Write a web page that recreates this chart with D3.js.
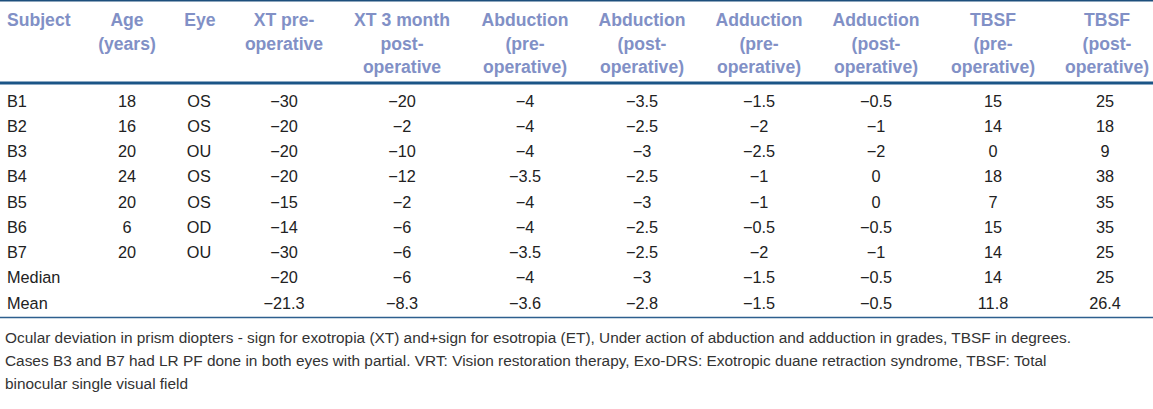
<!DOCTYPE html>
<html>
<head>
<meta charset="utf-8">
<script src="https://cdn.jsdelivr.net/npm/d3@7"></script>
<style>
  html, body { margin: 0; padding: 0; background: #ffffff; }
  svg { display: block; }
</style>
</head>
<body>
<svg id="chart" width="1153" height="409"></svg>
<script>
// ---------- DATA ----------
const columnKeys = ["subject","age","eye","xtPre","xtPost","abdPre","abdPost","addPre","addPost","tbsfPre","tbsfPost"];
const headerLines = [
  ["Subject"],
  ["Age","(years)"],
  ["Eye"],
  ["XT pre-","operative"],
  ["XT 3 month","post-","operative"],
  ["Abduction","(pre-","operative)"],
  ["Abduction","(post-","operative)"],
  ["Adduction","(pre-","operative)"],
  ["Adduction","(post-","operative)"],
  ["TBSF","(pre-","operative)"],
  ["TBSF","(post-","operative)"]
];
const subjects = ["B1","B2","B3","B4","B5","B6","B7"];
const age      = [18, 16, 20, 24, 20, 6, 20];
const eye      = ["OS","OS","OU","OS","OS","OD","OU"];
const xtPre    = [-30, -20, -20, -20, -15, -14, -30];
const xtPost   = [-20, -2, -10, -12, -2, -6, -6];
const abdPre   = [-4, -4, -4, -3.5, -4, -4, -3.5];
const abdPost  = [-3.5, -2.5, -3, -2.5, -3, -2.5, -2.5];
const addPre   = [-1.5, -2, -2.5, -1, -1, -0.5, -2];
const addPost  = [-0.5, -1, -2, 0, 0, -0.5, -1];
const tbsfPre  = [15, 14, 0, 18, 7, 15, 14];
const tbsfPost = [25, 18, 9, 38, 35, 35, 25];
const summaryLabels = ["Median","Mean"];
const medianValues = ["-20","-6","-4","-3","-1.5","-0.5","14","25"];
const meanValues   = ["-21.3","-8.3","-3.6","-2.8","-1.5","-0.5","11.8","26.4"];
const footnotes = [
  "Ocular deviation in prism diopters - sign for exotropia (XT) and+sign for esotropia (ET), Under action of abduction and adduction in grades, TBSF in degrees.",
  "Cases B3 and B7 had LR PF done in both eyes with partial. VRT: Vision restoration therapy, Exo-DRS: Exotropic duane retraction syndrome, TBSF: Total",
  "binocular single visual field"
];

// ---------- BUILD ROWS ----------
const fmt = v => { const s = String(v); return s.startsWith("-") ? "\u2212" + s.slice(1) : s; };
const rows = subjects.map((s, i) => [s, String(age[i]), eye[i], fmt(xtPre[i]), fmt(xtPost[i]),
  fmt(abdPre[i]), fmt(abdPost[i]), fmt(addPre[i]), fmt(addPost[i]), fmt(tbsfPre[i]), fmt(tbsfPost[i])]);
rows.push([summaryLabels[0], "", ""].concat(medianValues.map(fmt)));
rows.push([summaryLabels[1], "", ""].concat(meanValues.map(fmt)));
const rowLabels = rows.map(r => r[0]);

// ---------- LAYOUT ----------
const svg = d3.select("#chart");
const font = "'Liberation Sans', Arial, Helvetica, sans-serif";
const x = d3.scaleOrdinal().domain(columnKeys)
  .range([7, 127, 199, 284, 402, 525, 642, 759, 876, 993, 1105]);
const xHead = d3.scaleOrdinal().domain(columnKeys)
  .range([7, 127, 200, 284, 402, 525, 642, 759, 876, 993, 1107]);
const yRow = d3.scalePoint().domain(rowLabels).range([101, 303]);
const yHead = d3.scalePoint().domain([0,1,2]).range([20, 67]);

// rules
svg.append("line").attr("x1",0).attr("x2",1153).attr("y1",0.75).attr("y2",0.75)
  .attr("stroke","#1d4f7c").attr("stroke-width",1.5);
svg.append("line").attr("x1",0).attr("x2",1153).attr("y1",83).attr("y2",83)
  .attr("stroke","#1b5587").attr("stroke-width",3);
svg.append("line").attr("x1",0).attr("x2",1153).attr("y1",317.5).attr("y2",317.5)
  .attr("stroke","#2d5f8e").attr("stroke-width",1.3);

// header
const head = svg.append("g").attr("font-family", font).attr("font-weight","bold")
  .attr("font-size", 17.6).attr("fill", "#8190c6");
columnKeys.forEach((k, ci) => {
  headerLines[ci].forEach((line, li) => {
    head.append("text")
      .attr("x", xHead(k)).attr("y", yHead(li))
      .attr("dy", "0.35em")
      .attr("text-anchor", ci === 0 ? "start" : "middle")
      .text(line);
  });
});

// body
const body = svg.append("g").attr("font-family", font).attr("font-size", 16.3).attr("fill", "#222");
rows.forEach(r => {
  r.forEach((cell, ci) => {
    if (cell === "") return;
    body.append("text")
      .attr("x", x(columnKeys[ci])).attr("y", yRow(r[0]))
      .attr("dy", "0.35em")
      .attr("text-anchor", ci === 0 ? "start" : "middle")
      .text(cell);
  });
});

// footnotes
const yFoot = d3.scalePoint().domain(d3.range(footnotes.length)).range([338, 384]);
const foot = svg.append("g").attr("font-family", font).attr("font-size", 15.4).attr("fill", "#333");
footnotes.forEach((t, i) => {
  foot.append("text").attr("x", 5).attr("y", yFoot(i)).attr("dy", "0.35em").text(t);
});
</script>
</body>
</html>
